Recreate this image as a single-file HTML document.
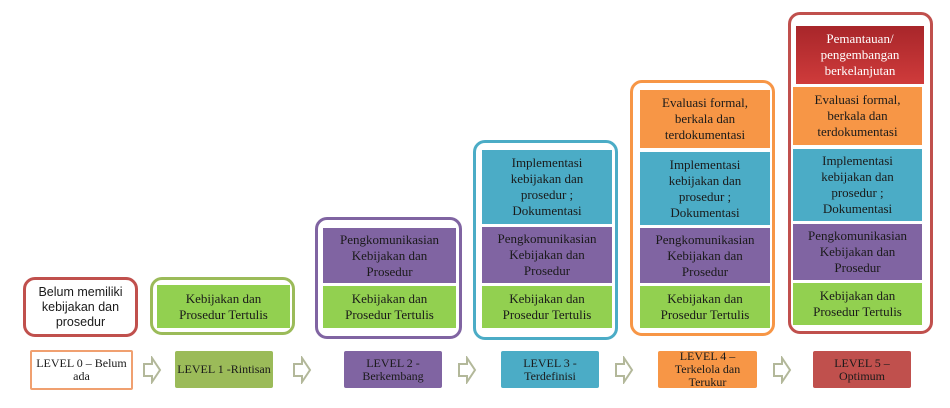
<!DOCTYPE html>
<html><head><meta charset="utf-8"><style>
body{margin:0;width:950px;height:408px;background:#fff;position:relative;overflow:hidden;font-family:"Liberation Serif",serif;color:#1a1a1a}
.o{position:absolute;border:3px solid;border-radius:12px;box-sizing:border-box}
.b{position:absolute;display:flex;align-items:center;justify-content:center;text-align:center;font-size:13px;line-height:16px}
.l{position:absolute;display:flex;align-items:center;justify-content:center;text-align:center;font-size:12px;line-height:13px;border-radius:2px}
.g{background:#92d050}.p{background:#8064a2}.c{background:#4bacc6}.r{background:#f79646}
svg.a{position:absolute;top:356px}
</style></head><body>
<div class="o" style="left:23px;top:277px;width:115px;height:60px;border-color:#c0504d"></div>
<div class="b" style="left:26px;top:280px;width:109px;height:54px;font-family:'Liberation Sans',sans-serif;font-size:12.5px;line-height:15px">Belum memiliki<br>kebijakan dan<br>prosedur</div>

<div class="o" style="left:150px;top:277px;width:145px;height:58px;border-color:#9bbb59"></div>
<div class="b g" style="left:157px;top:285px;width:133px;height:43px">Kebijakan dan<br>Prosedur Tertulis</div>

<div class="o" style="left:315px;top:217px;width:147px;height:122px;border-color:#8064a2"></div>
<div class="b p" style="left:323px;top:228px;width:133px;height:55px">Pengkomunikasian<br>Kebijakan dan<br>Prosedur</div>
<div class="b g" style="left:323px;top:286px;width:133px;height:42px">Kebijakan dan<br>Prosedur Tertulis</div>

<div class="o" style="left:473px;top:140px;width:145px;height:200px;border-color:#4bacc6"></div>
<div class="b c" style="left:482px;top:150px;width:130px;height:74px">Implementasi<br>kebijakan dan<br>prosedur ;<br>Dokumentasi</div>
<div class="b p" style="left:482px;top:227px;width:130px;height:56px">Pengkomunikasian<br>Kebijakan dan<br>Prosedur</div>
<div class="b g" style="left:482px;top:286px;width:130px;height:42px">Kebijakan dan<br>Prosedur Tertulis</div>

<div class="o" style="left:630px;top:80px;width:145px;height:256px;border-color:#f79646"></div>
<div class="b r" style="left:640px;top:90px;width:130px;height:58px">Evaluasi formal,<br>berkala dan<br>terdokumentasi</div>
<div class="b c" style="left:640px;top:152px;width:130px;height:73px">Implementasi<br>kebijakan dan<br>prosedur ;<br>Dokumentasi</div>
<div class="b p" style="left:640px;top:228px;width:130px;height:55px">Pengkomunikasian<br>Kebijakan dan<br>Prosedur</div>
<div class="b g" style="left:640px;top:286px;width:130px;height:42px">Kebijakan dan<br>Prosedur Tertulis</div>

<div class="o" style="left:788px;top:12px;width:145px;height:322px;border-color:#c0504d"></div>
<div class="b" style="left:796px;top:26px;width:128px;height:58px;background:linear-gradient(#a8262a,#cf3b3b);color:#fff">Pemantauan/<br>pengembangan<br>berkelanjutan</div>
<div class="b r" style="left:793px;top:87px;width:129px;height:58px">Evaluasi formal,<br>berkala dan<br>terdokumentasi</div>
<div class="b c" style="left:793px;top:149px;width:129px;height:72px">Implementasi<br>kebijakan dan<br>prosedur ;<br>Dokumentasi</div>
<div class="b p" style="left:793px;top:224px;width:129px;height:56px">Pengkomunikasian<br>Kebijakan dan<br>Prosedur</div>
<div class="b g" style="left:793px;top:283px;width:129px;height:42px">Kebijakan dan<br>Prosedur Tertulis</div>

<div class="l" style="left:30px;top:350px;width:103px;height:40px;border:2px solid #f0a070;box-sizing:border-box;background:#fff">LEVEL 0 – Belum<br>ada</div>
<div class="l" style="left:175px;top:351px;width:98px;height:37px;background:#9bbb59">LEVEL 1 -Rintisan</div>
<div class="l" style="left:344px;top:351px;width:98px;height:37px;background:#8064a2">LEVEL 2 -<br>Berkembang</div>
<div class="l" style="left:501px;top:351px;width:98px;height:37px;background:#4bacc6">LEVEL 3 -<br>Terdefinisi</div>
<div class="l" style="left:658px;top:351px;width:99px;height:37px;background:#f79646">LEVEL 4 –<br>Terkelola dan<br>Terukur</div>
<div class="l" style="left:813px;top:351px;width:98px;height:37px;background:#c0504d">LEVEL 5 –<br>Optimum</div>

<svg class="a" style="left:142px" width="20" height="28"><path d="M2 8H10V2L18 14L10 26V20H2Z" fill="#fff" stroke="#b3b89a" stroke-width="2"/></svg>
<svg class="a" style="left:292px" width="20" height="28"><path d="M2 8H10V2L18 14L10 26V20H2Z" fill="#fff" stroke="#b3b89a" stroke-width="2"/></svg>
<svg class="a" style="left:457px" width="20" height="28"><path d="M2 8H10V2L18 14L10 26V20H2Z" fill="#fff" stroke="#b3b89a" stroke-width="2"/></svg>
<svg class="a" style="left:614px" width="20" height="28"><path d="M2 8H10V2L18 14L10 26V20H2Z" fill="#fff" stroke="#b3b89a" stroke-width="2"/></svg>
<svg class="a" style="left:772px" width="20" height="28"><path d="M2 8H10V2L18 14L10 26V20H2Z" fill="#fff" stroke="#b3b89a" stroke-width="2"/></svg>
</body></html>
